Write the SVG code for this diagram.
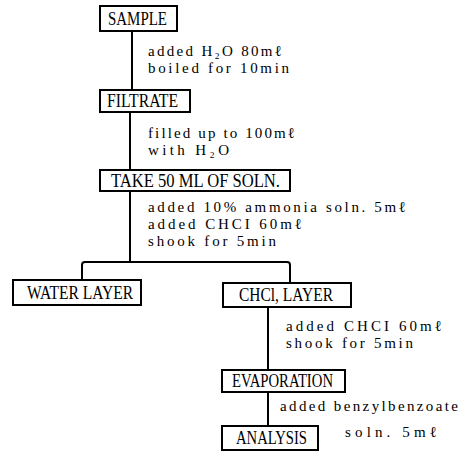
<svg xmlns="http://www.w3.org/2000/svg" width="476" height="456" viewBox="0 0 476 456">
<style>
.box{fill:#fff;stroke:#000;stroke-width:2}
.lbl{font-family:"Liberation Serif",serif;font-size:18px;fill:#000}
.note{font-family:"Liberation Serif",serif;font-size:15px;fill:#000}
.con{fill:none;stroke:#000;stroke-width:2}
</style>
<rect width="476" height="456" fill="#fff"/>
<g id="connectors">
<path class="con" d="M132,31 V90"/>
<path class="con" d="M130,112 V170"/>
<path class="con" d="M130,191 V262"/>
<path class="con" d="M82,280 V265 Q82,262 85,262 H287 Q290,262 290,265 V283"/>
<path class="con" d="M268,307 V370"/>
<path class="con" d="M268,392 V426"/>
</g>
<g id="sample"><rect class="box" x="100" y="6" width="77" height="25"/><text class="lbl" x="108" y="25" textLength="59" lengthAdjust="spacingAndGlyphs">SAMPLE</text></g>
<g id="note1"><text class="note" x="148" y="56" textLength="134" lengthAdjust="spacing">added H₂O 80mℓ</text><text class="note" x="148" y="73" textLength="141" lengthAdjust="spacing">boiled for 10min</text></g>
<g id="filtrate"><rect class="box" x="100" y="90" width="90" height="22"/><text class="lbl" x="107" y="107" textLength="71" lengthAdjust="spacingAndGlyphs">FILTRATE</text></g>
<g id="note2"><text class="note" x="148" y="138" textLength="147" lengthAdjust="spacing">filled up to 100mℓ</text><text class="note" x="148" y="155" textLength="81" lengthAdjust="spacing">with H₂O</text></g>
<g id="take"><rect class="box" x="100" y="170" width="190" height="21"/><text class="lbl" x="111" y="187" textLength="169" lengthAdjust="spacingAndGlyphs">TAKE 50 ML OF SOLN.</text></g>
<g id="note3"><text class="note" x="148" y="212" textLength="258" lengthAdjust="spacing">added 10% ammonia soln. 5mℓ</text><text class="note" x="148" y="229" textLength="154" lengthAdjust="spacing">added CHCI 60mℓ</text><text class="note" x="148" y="246" textLength="128" lengthAdjust="spacing">shook for 5min</text></g>
<g id="water"><rect class="box" x="13" y="280" width="128" height="25"/><text class="lbl" x="27" y="299" textLength="106" lengthAdjust="spacingAndGlyphs">WATER LAYER</text></g>
<g id="chcl"><rect class="box" x="223" y="283" width="128" height="24"/><text class="lbl" x="239" y="301" textLength="94" lengthAdjust="spacingAndGlyphs">CHCl, LAYER</text></g>
<g id="note4"><text class="note" x="286" y="331" textLength="156" lengthAdjust="spacing">added CHCI 60mℓ</text><text class="note" x="286" y="348" textLength="127" lengthAdjust="spacing">shook for 5min</text></g>
<g id="evap"><rect class="box" x="222" y="370" width="123" height="22"/><text class="lbl" x="232" y="387" textLength="101" lengthAdjust="spacingAndGlyphs">EVAPORATION</text></g>
<g id="note5"><text class="note" x="280" y="411" textLength="178" lengthAdjust="spacing">added benzylbenzoate</text><text class="note" x="345" y="437" textLength="92" lengthAdjust="spacing">soln. 5mℓ</text></g>
<g id="analysis"><rect class="box" x="222" y="426" width="96" height="24"/><text class="lbl" x="236" y="444" textLength="71" lengthAdjust="spacingAndGlyphs">ANALYSIS</text></g>
</svg>
